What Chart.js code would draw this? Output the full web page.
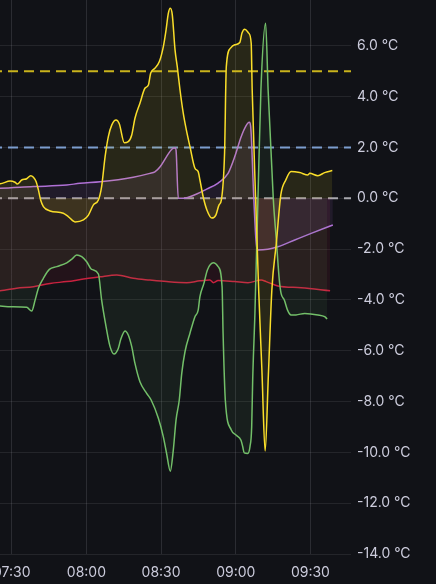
<!DOCTYPE html>
<html>
<head>
<meta charset="utf-8">
<script src="https://cdn.jsdelivr.net/npm/chart.js@4.4.1/dist/chart.umd.min.js"></script>
<style>
  html, body { margin: 0; padding: 0; background: #111217; overflow: hidden; }
  body { width: 436px; height: 584px; position: relative; }
  #wrap { position: absolute; left: -40px; top: -30px; width: 476px; height: 614px; }
  canvas { display: block; }
</style>
</head>
<body>
<div id="wrap"><canvas id="c" width="476" height="614"></canvas></div>
<script>
// time in minutes since midnight
const xMin = 429.2, xMax = 586.3;
const xTicks = [450, 480, 510, 540, 570];
const yTicksMin = -14, yTicksMax = 8, yStep = 2;
const thresholds = [5, 2, 0];

const yellowT = [429.2,445.3,449.3,451.3,452.2,454.0,456.0,457.6,458.7,459.8,460.7,461.6,462.7,465.4,470.7,472.7,475.4,478.8,480.8,482.8,484.8,486.1,487.5,488.8,490.2,491.9,493.2,495.2,496.8,498.2,499.5,501.5,503.5,504.9,505.8,507.5,509.3,510.9,512.0,512.9,513.7,514.5,515.6,516.5,517.6,518.9,520.0,521.6,523.6,524.9,525.6,526.9,528.4,530.4,532.0,533.3,534.2,535.5,536.2,537.9,539.6,541.6,542.5,543.6,545.2,546.2,546.6,548.0,549.2,550.5,551.8,553.1,554.5,556.3,558.1,560.1,562.2,565.7,569.0,569.7,573.0,575.7,578.8];
const yellowV = [0.57,0.57,0.68,0.63,0.56,0.72,0.77,0.89,0.83,0.65,0.33,-0.07,-0.33,-0.50,-0.59,-0.72,-0.93,-0.85,-0.66,-0.26,-0.07,0.46,1.64,2.43,2.89,3.08,2.93,2.19,2.23,2.49,3.15,3.74,4.33,4.46,4.92,5.12,5.38,5.97,6.63,7.28,7.48,7.22,5.84,5.18,4.26,3.35,2.76,2.03,1.18,1.05,0.72,0.06,-0.46,-0.78,-0.66,-0.26,-0.07,1.78,5.18,5.91,6.04,6.13,6.50,6.65,6.50,6.10,4.26,-0.07,-3.61,-6.76,-9.95,-6.96,-3.61,-1.77,0.13,0.72,1.05,1.01,0.92,0.98,0.89,1.01,1.09];

const greenT = [429.2,445.3,449.3,456.0,458.0,459.4,460.7,462.7,465.1,468.1,472.1,474.1,476.1,478.1,480.1,482.1,484.8,486.1,487.9,489.5,491.1,492.8,493.8,495.5,496.8,498.2,499.5,501.5,504.2,506.0,508.9,510.9,512.2,513.7,514.9,516.0,517.3,518.3,519.6,521.6,523.6,524.9,525.6,527.2,528.6,531.0,532.9,534.5,534.9,535.8,538.2,540.1,542.1,542.8,543.4,544.8,545.7,546.4,546.8,547.7,548.9,550.1,552.0,553.0,555.1,556.3,557.5,558.2,559.5,560.8,562.2,564.2,567.7,573.0,575.7,576.7];
const greenV = [-4.24,-4.24,-4.27,-4.29,-4.44,-4.0,-3.54,-3.15,-2.80,-2.69,-2.54,-2.40,-2.23,-2.30,-2.50,-2.80,-2.98,-4.0,-5.06,-5.84,-6.13,-5.91,-5.55,-5.22,-5.38,-5.84,-6.50,-7.22,-7.68,-7.94,-8.66,-9.39,-10.04,-10.74,-9.91,-8.73,-7.94,-6.89,-6.04,-5.31,-4.66,-4.40,-3.87,-3.35,-2.82,-2.54,-2.69,-3.48,-5.30,-7.94,-9.12,-9.32,-9.52,-9.78,-10.02,-10.04,-9.78,-8.99,-7.15,-4.52,-0.07,4.26,6.89,4.26,-0.07,-1.64,-3.22,-3.74,-4.0,-4.40,-4.59,-4.59,-4.53,-4.59,-4.66,-4.75];

const redT = [429.2,445.3,452.0,458.7,465.4,472.1,478.8,485.5,492.2,498.8,505.5,512.2,520.3,525.6,529.6,531.0,532.9,539.6,544.9,550.2,552.2,556.9,566.3,577.9];
const redV = [-3.67,-3.64,-3.54,-3.48,-3.35,-3.28,-3.18,-3.09,-3.02,-3.15,-3.22,-3.28,-3.32,-3.25,-3.22,-3.32,-3.24,-3.28,-3.32,-3.22,-3.28,-3.45,-3.52,-3.64];

const purpleT = [429.2,445.3,458.7,472.1,477.4,485.5,498.8,505.5,507.5,509.6,512.2,514.3,515.6,516.0,516.9,518.9,524.3,528.3,532.9,536.9,539.6,542.2,544.1,545.4,546.1,547.1,548.1,548.6,552.9,556.9,563.7,570.3,579.0];
const purpleV = [0.35,0.39,0.46,0.52,0.59,0.65,0.83,0.98,1.04,1.24,1.64,1.93,1.99,1.90,0.0,0.0,0.17,0.36,0.60,0.98,1.64,2.43,2.85,2.99,2.69,0.33,-1.64,-2.04,-2.01,-1.91,-1.64,-1.38,-1.05];

const pts = (t, v) => t.map((x, i) => ({ x, y: v[i] }));

function series(t, v, color, fillColor) {
  return {
    data: pts(t, v),
    borderColor: color,
    backgroundColor: fillColor,
    borderWidth: 1.5,
    pointRadius: 0,
    cubicInterpolationMode: 'monotone',
    fill: { value: 0 }
  };
}
const thresholdColors = ['#C9B31C', '#7C9DCF', '#A8A8AE'];
const thresholdSets = thresholds.map((v, i) => ({
  data: [{ x: xMin, y: v }, { x: xMax, y: v }],
  borderColor: thresholdColors[i],
  borderWidth: 2,
  borderDash: [10, 6],
  pointRadius: 0,
  fill: false
}));

const bg = {
  id: 'bg',
  beforeDraw(chart) {
    const ctx = chart.ctx;
    ctx.save();
    ctx.fillStyle = '#111217';
    ctx.fillRect(0, 0, chart.width, chart.height);
    ctx.restore();
  }
};

const pad2 = n => String(n).padStart(2, '0');

new Chart(document.getElementById('c'), {
  type: 'line',
  data: {
    datasets: [
      series(yellowT, yellowV, '#FADE2A', 'rgba(250,222,42,0.10)'),
      series(greenT, greenV, '#73BF69', 'rgba(115,191,105,0.08)'),
      series(purpleT, purpleV, '#B070D6', 'rgba(176,112,214,0.10)'),
      series(redT, redV, '#C8223F', 'rgba(200,34,63,0.10)'),
      ...thresholdSets
    ]
  },
  options: {
    responsive: false,
    animation: false,
    devicePixelRatio: 1,
    layout: { padding: { top: 25, left: 0, right: 0, bottom: 0 } },
    plugins: { legend: { display: false }, tooltip: { enabled: false } },
    scales: {
      x: {
        type: 'linear',
        min: xMin,
        max: xMax,
        afterBuildTicks: s => { s.ticks = xTicks.map(v => ({ value: v })); },
        afterFit: s => { s.height = 30; },
        grid: { color: 'rgba(204,204,220,0.14)', drawTicks: false },
        border: { display: false },
        ticks: {
          padding: 10,
          color: '#CCCCDC',
          font: { family: 'Inter', size: 14 },
          maxRotation: 0,
          autoSkip: false,
          callback: v => pad2(Math.floor(v / 60)) + ':' + pad2(Math.round(v % 60))
        }
      },
      y: {
        position: 'right',
        min: yTicksMin,
        max: yTicksMax,
        afterFit: s => { s.width = 85; },
        grid: { color: 'rgba(204,204,220,0.10)', drawTicks: false },
        border: { display: false },
        ticks: {
          stepSize: yStep,
          padding: 6,
          color: '#CCCCDC',
          font: { family: 'Inter', size: 14 },
          callback: v => v.toFixed(1) + ' °C'
        }
      }
    }
  },
  plugins: [bg]
});
</script>
</body>
</html>
